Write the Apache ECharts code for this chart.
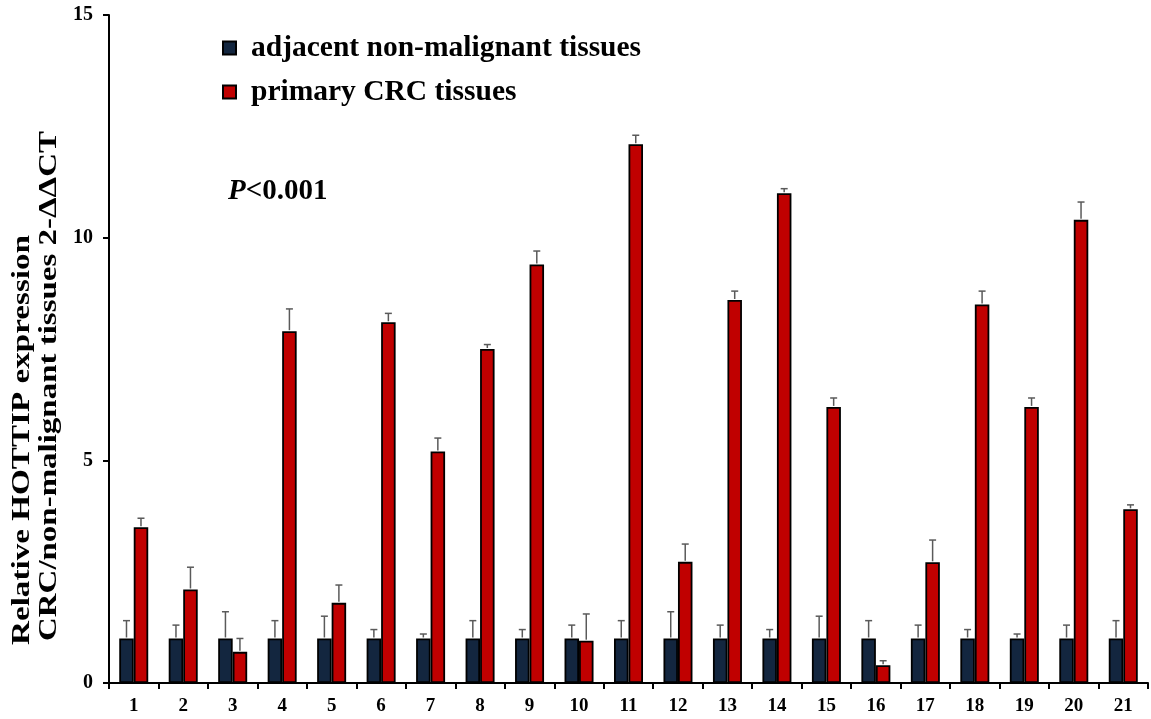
<!DOCTYPE html>
<html>
<head>
<meta charset="utf-8">
<script src="https://cdn.jsdelivr.net/npm/echarts@6/dist/echarts.min.js"></script>
<style>
html,body{margin:0;padding:0;background:#fff;}
#chart{width:1151px;height:719px;}
</style>
</head>
<body>
<div id="chart"></div>
<script>
const categories = ['1','2','3','4','5','6','7','8','9','10','11','12','13','14','15','16','17','18','19','20','21'];
const adjacentValues = [1,1,1,1,1,1,1,1,1,1,1,1,1,1,1,1,1,1,1,1,1];
const adjacentErrors = [0.4,0.3,0.6,0.4,0.5,0.2,0.1,0.4,0.2,0.3,0.4,0.6,0.3,0.2,0.5,0.4,0.3,0.2,0.1,0.3,0.4];
const crcValues = [3.5,2.1,0.7,7.9,1.8,8.1,5.2,7.5,9.4,0.95,12.1,2.72,8.6,11.0,6.2,0.4,2.71,8.5,6.2,10.4,3.9];
const crcErrors = [0.2,0.5,0.3,0.5,0.4,0.2,0.3,0.1,0.3,0.6,0.2,0.4,0.2,0.1,0.2,0.1,0.5,0.3,0.2,0.4,0.1];
const yTicks = [0,5,10,15];
const seriesNames = ['adjacent non-malignant tissues','primary CRC tissues'];
const titleLines = ['Relative HOTTIP expression','CRC/non-malignant tissues 2-ΔΔCT'];
const annotation = 'P<0.001';

const FONT = '"Liberation Serif","Times New Roman",serif';
const BAR_W = 14.5;
const BLUE = '#13263f';
const RED = '#c00000';

function errData(vals, errs){
  return vals.map((v,i)=>[i, v, v+errs[i]]);
}
function errRender(offset){
  return function(params, api){
    const i = api.value(0);
    const p0 = api.coord([i, api.value(1)]);
    const p1 = api.coord([i, api.value(2)]);
    const x = p0[0] + offset;
    const cap = 3.5;
    const style = {stroke:'#5a5a5a', lineWidth:1.5, fill:null};
    return {type:'group', children:[
      {type:'line', shape:{x1:x,y1:p0[1]-1,x2:x,y2:p1[1]}, style:style},
      {type:'line', shape:{x1:x-cap,y1:p1[1],x2:x+cap,y2:p1[1]}, style:style}
    ]};
  };
}

// measure title lines to stretch them to the reference's length
const mctx = document.createElement('canvas').getContext('2d');
const TITLE_FONT = 'bold 25px ' + FONT;
mctx.font = TITLE_FONT;
const w1 = mctx.measureText(titleLines[0]).width;
const w2 = mctx.measureText(titleLines[1]).width;
const s1 = 410 / w1, s2 = 510 / w2;

const chart = echarts.init(document.getElementById('chart'));
chart.setOption({
  animation:false,
  backgroundColor:'#fff',
  grid:{left:109,right:3,top:15,bottom:36,containLabel:false},
  legend:{
    orient:'vertical', left:217, top:28, itemGap:14,
    icon:'rect', itemWidth:13, itemHeight:13,
    data:seriesNames,
    textStyle:{fontFamily:FONT,fontWeight:'bold',fontSize:29.5,lineHeight:29,color:'#000',padding:[0,0,0,10]}
  },
  xAxis:{
    type:'category', data:categories,
    axisLine:{lineStyle:{color:'#000',width:2}},
    axisTick:{show:true,length:6,lineStyle:{color:'#000',width:2},interval:0},
    axisLabel:{fontFamily:FONT,fontWeight:'bold',fontSize:19,color:'#000',margin:14,interval:0},
    splitLine:{show:false}
  },
  yAxis:{
    type:'value', min:0, max:15, interval:5,
    axisLine:{show:true,lineStyle:{color:'#000',width:2}},
    axisTick:{show:true,length:6,lineStyle:{color:'#000',width:2}},
    axisLabel:{fontFamily:FONT,fontWeight:'bold',fontSize:20,color:'#000',margin:16,
      formatter:function(v){return yTicks.indexOf(v)>=0?String(v):'';}},
    splitLine:{show:false}
  },
  graphic:[
    {type:'text', x:23, y:645, rotation:Math.PI/2, scaleX:s1,
      style:{text:titleLines[0], font:TITLE_FONT, fill:'#000', align:'left', verticalAlign:'middle'}},
    {type:'text', x:50, y:641, rotation:Math.PI/2, scaleX:s2,
      style:{text:titleLines[1], font:TITLE_FONT, fill:'#000', align:'left', verticalAlign:'middle'}},
    {type:'text', x:228, y:192,
      style:{text:'{i|P}' + annotation.slice(1), font:'bold 29px '+FONT, fill:'#000', verticalAlign:'middle',
        rich:{i:{fontStyle:'italic',fontWeight:'bold',fontSize:29,fontFamily:FONT}}}}
  ],
  series:[
    {name:seriesNames[0], type:'bar', data:adjacentValues, barWidth:BAR_W, barGap:'0%',
      itemStyle:{color:BLUE,borderColor:'#000',borderWidth:1.8}},
    {name:seriesNames[1], type:'bar', data:crcValues, barWidth:BAR_W, barGap:'0%',
      itemStyle:{color:RED,borderColor:'#000',borderWidth:1.8}},
    {type:'custom', data:errData(adjacentValues, adjacentErrors), renderItem:errRender(-BAR_W/2), z:5, silent:true},
    {type:'custom', data:errData(crcValues, crcErrors), renderItem:errRender(BAR_W/2), z:5, silent:true}
  ]
});
</script>
</body>
</html>
